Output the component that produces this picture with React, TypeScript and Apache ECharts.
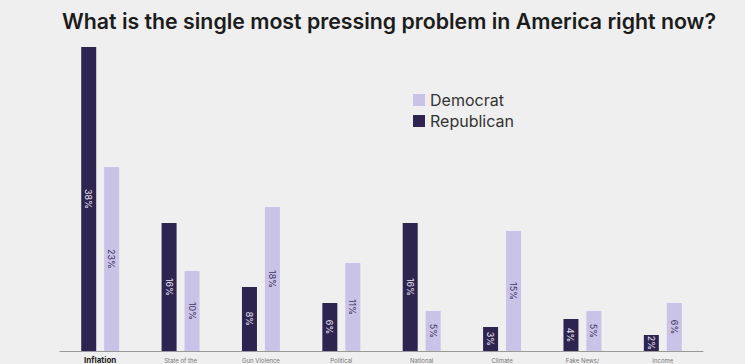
import React, { useEffect, useRef } from "react";
import * as echarts from "echarts";

const categories = [
  "Inflation",
  "State of the\nEconomy",
  "Gun Violence",
  "Political\nPolarization",
  "National\nSecurity",
  "Climate\nChange",
  "Fake News/\nMisinformation",
  "Income\nInequality",
];
const republican = [38, 16, 8, 6, 16, 3, 4, 2];
const democrat = [23, 10, 18, 11, 5, 15, 5, 6];

export default function App() {
  const ref = useRef<HTMLDivElement>(null);
  useEffect(() => {
    document.body.style.margin = "0";
    document.body.style.background = "#efefef";
    const chart = echarts.init(ref.current!, null, { renderer: "svg" });
    chart.setOption({
      animation: false,
      backgroundColor: "#efefef",
      title: {
        text: "What is the single most pressing problem in America right now?",
        left: 62,
        top: 10,
        padding: 0,
        textStyle: {
          fontFamily: "Inter",
          fontSize: 21.3,
          fontWeight: 600,
          color: "#1c1c1c",
        },
      },
      legend: {
        data: ["Democrat", "Republican"],
        orient: "vertical",
        left: 413,
        top: 92,
        padding: 0,
        icon: "rect",
        itemWidth: 12,
        itemHeight: 12,
        itemGap: 5,
        textStyle: { fontFamily: "Inter", fontSize: 16, color: "#333" },
      },
      grid: { left: 60, right: 42, top: 47, bottom: 13, outerBoundsMode: "none", containLabel: false },
      xAxis: {
        type: "category",
        data: categories.map((c, i) =>
          i === 0
            ? { value: c, textStyle: { fontWeight: "bold", color: "#222", fontSize: 8 } }
            : c
        ),
        axisLine: { lineStyle: { color: "#999", width: 1 } },
        axisTick: { show: false },
        axisLabel: {
          interval: 0,
          fontFamily: "Inter",
          fontSize: 6,
          color: "#777",
          lineHeight: 8,
          margin: 5,
        },
      },
      yAxis: {
        type: "value",
        min: 0,
        max: 38,
        show: false,
        splitLine: { show: false },
      },
      series: [
        {
          name: "Republican",
          type: "bar",
          data: republican,
          barWidth: 15,
          barGap: "53%",
          itemStyle: { color: "#2e2450" },
          label: {
            show: true,
            position: "inside",
            rotate: -90,
            formatter: "{c}%",
            fontFamily: "Inter",
            fontSize: 9,
            color: "#e6e3f2",
          },
        },
        {
          name: "Democrat",
          type: "bar",
          data: democrat,
          barWidth: 15,
          itemStyle: { color: "#c9c3e7" },
          label: {
            show: true,
            position: "inside",
            rotate: -90,
            formatter: "{c}%",
            fontFamily: "Inter",
            fontSize: 9,
            color: "#3d3463",
          },
        },
      ],
    });
    return () => chart.dispose();
  }, []);
  return <div ref={ref} style={{ width: 745, height: 364 }} />;
}
